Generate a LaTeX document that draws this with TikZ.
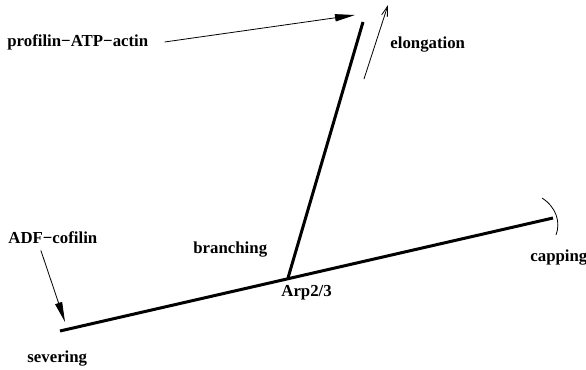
\documentclass[tikz,border=0pt]{standalone}
\usepackage{fontspec}
\setmainfont{Liberation Serif}
\usetikzlibrary{arrows.meta}

\begin{document}
\begin{tikzpicture}[
  x=0.5pt, y=-0.5pt,
  font=\fontsize{8.4}{10}\selectfont\bfseries,
  filament/.style={line width=1.5pt, line cap=butt},
  feed/.style={-{Triangle[length=10pt,width=3.6pt]}, line width=0.4pt},
  growarrow/.style={-{Straight Barb[length=5pt,width=3pt]}, line width=0.4pt},
  lbl/.style={inner sep=0pt, anchor=west},
]
\useasboundingbox (0,0) rectangle (586,370);
% --- filament ends and the branch point ---
\coordinate (pointed) at (60,331);
\coordinate (barbed) at (553,218);
\coordinate (arp) at (288,278);
\coordinate (tip) at (363,22);
\draw[filament] (pointed) -- (barbed);
\draw[filament] (arp) -- (tip);
% --- capping protein on the barbed end ---
\draw[line width=0.4pt] (542,198) .. controls (556,207) and (561,222) .. (556,235);
% --- labels ---
\node[lbl] (profilin) at (7,42) {profilin−ATP−actin};
\node[lbl] (elong) at (390,45) {elongation};
\node[lbl] (adf) at (8,238) {ADF−cofilin};
\node[lbl] (branch) at (193,250) {branching};
\node[lbl] (arplbl) at (281,293) {Arp2/3};
\node[lbl] (cap) at (530,258) {capping};
\node[lbl] (sever) at (27,359) {severing};
% --- arrows ---
\coordinate (feedin) at (355,15);
\coordinate (cutat) at (65,322);
\coordinate (growfrom) at (364,79);
\coordinate (growto) at (388,5);
\draw[feed] ([xshift=8pt]profilin.east) -- (feedin);
\draw[feed] ([xshift=-6pt,yshift=-3pt]adf.south) -- (cutat);
\draw[growarrow] (growfrom) -- (growto);
\end{tikzpicture}
\end{document}
